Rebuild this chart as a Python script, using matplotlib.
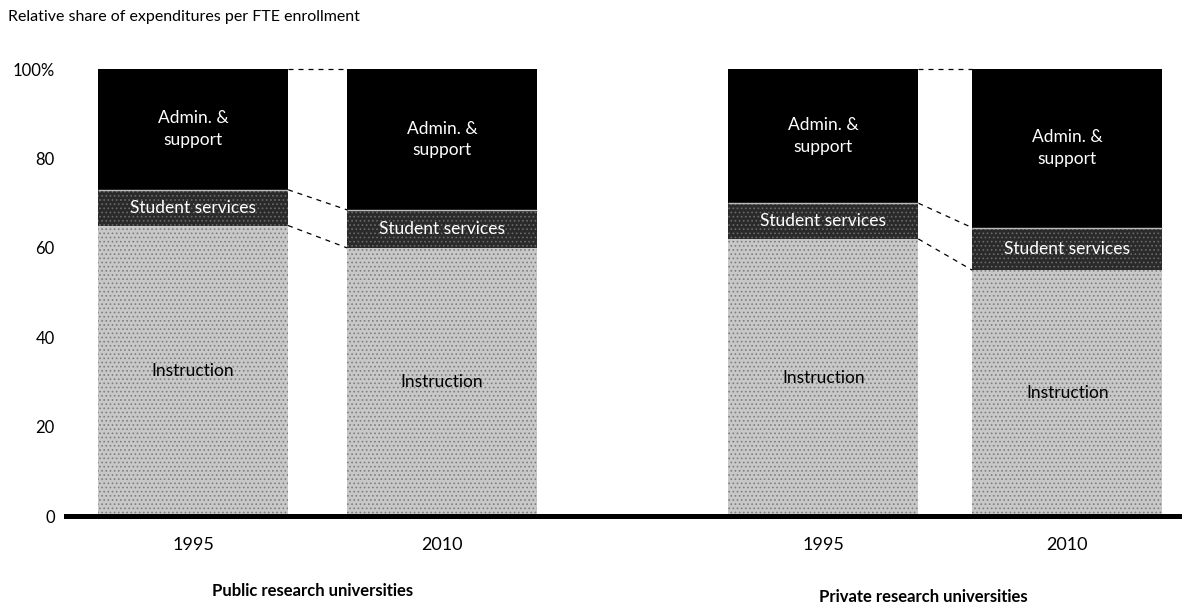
import numpy as np
import matplotlib.pyplot as plt

plt.rcParams["font.family"] = ["Lato", "DejaVu Sans"]
plt.rcParams["hatch.linewidth"] = 0.7

# Relative share of spending per FTE enrollment (%)
years = ["1995", "2010", "1995", "2010"]
groups = ["Public research universities", "Private research universities"]
instruction = [65.0, 60.0, 62.0, 55.0]
student_services = [8.0, 8.5, 8.0, 9.5]
admin_support = [27.0, 31.5, 30.0, 35.5]

x = np.array([0.0, 1.0, 2.53, 3.51])
width = 0.763
xmin, xmax = -0.51, 3.97

fig = plt.figure(figsize=(11.82, 6.08), dpi=100)
ax = fig.add_axes([0.0558, 0.151, 0.9442, 0.7355])

inst = np.array(instruction)
stud = np.array(student_services)
adm = np.array(admin_support)

ax.bar(x, inst, width, color="#c8c8c8", edgecolor="#7e7e7e", hatch="....",
       linewidth=0, zorder=2)
ax.bar(x, stud, width, bottom=inst, color="#2a2a2a", edgecolor="#6a6a6a",
       hatch="....", linewidth=0, zorder=2)
ax.bar(x, adm, width, bottom=inst + stud, color="#000000", linewidth=0,
       zorder=2, clip_on=False)

# thin light rule on top of the student services segment
ax.hlines(inst + stud, x - width / 2, x + width / 2, color="#bdbdbd",
          linewidth=1.0, zorder=3)

# dashed connectors between the two years of each group
for a, b in [(0, 1), (2, 3)]:
    for lev_a, lev_b in [(inst[a], inst[b]),
                         (inst[a] + stud[a], inst[b] + stud[b]),
                         (inst[a] + stud[a] + adm[a], inst[b] + stud[b] + adm[b])]:
        ax.plot([x[a] + width / 2, x[b] - width / 2], [lev_a, lev_b],
                color="black", linewidth=0.9, linestyle=(0, (4, 4)),
                zorder=1, clip_on=False)

# segment labels
for i in range(len(x)):
    ax.text(x[i], inst[i] / 2, "Instruction", ha="center", va="center",
            fontsize=12.5, color="black", zorder=4)
    ax.text(x[i], inst[i] + stud[i] / 2, "Student services", ha="center",
            va="center", fontsize=12.5, color="white", zorder=4)
    ax.text(x[i], inst[i] + stud[i] + adm[i] / 2, "Admin. &\nsupport",
            ha="center", va="center", fontsize=12.5, color="white",
            linespacing=1.45, zorder=4)

ax.set_xlim(xmin, xmax)
ax.set_ylim(0, 100)
ax.set_yticks([0, 20, 40, 60, 80, 100])
ax.set_yticklabels(["0", "20", "40", "60", "80", "100%"])
ax.set_xticks(x)
ax.set_xticklabels(years)
ax.tick_params(axis="y", length=0, pad=8, labelsize=12)
ax.tick_params(axis="x", length=0, pad=15, labelsize=13)

for side in ["top", "right", "left"]:
    ax.spines[side].set_visible(False)
ax.spines["bottom"].set_linewidth(3.6)
ax.spines["bottom"].set_zorder(5)

# group labels under each pair of bars
for gx, gy, name in [(0.48, 0.028, groups[0]), (2.93, 0.018, groups[1])]:
    fx = 0.0558 + 0.9442 * (gx - xmin) / (xmax - xmin)
    fig.text(fx, gy, name, ha="center", va="center", fontsize=12,
             fontweight="bold")

fig.text(0.007, 0.972, "Relative share of expenditures per FTE enrollment",
         ha="left", va="center", fontsize=11.5)

fig.savefig("out.png", dpi=100)
